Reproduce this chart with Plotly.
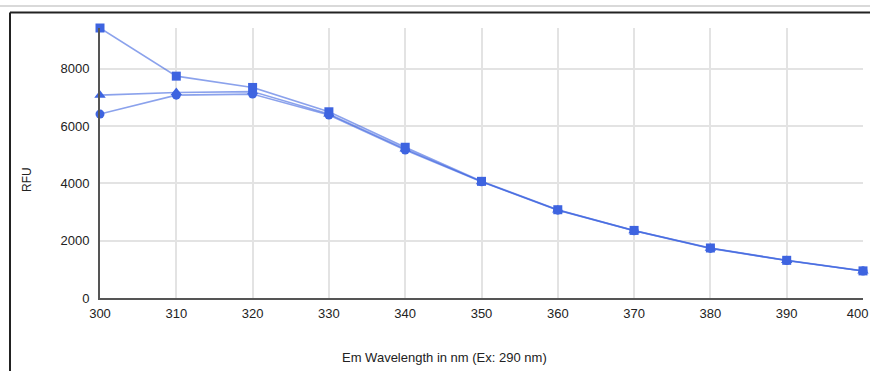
import plotly.graph_objects as go

wavelengths = [300, 310, 320, 330, 340, 350, 360, 370, 380, 390, 400]
series_square = [9420, 7740, 7346, 6497, 5259, 4070, 3080, 2358, 1745, 1315, 946]
series_triangle = [7078, 7172, 7200, 6420, 5200, 4060, 3070, 2350, 1735, 1310, 942]
series_circle = [6417, 7078, 7113, 6383, 5165, 4055, 3065, 2345, 1730, 1308, 940]
x_ticks = [300, 310, 320, 330, 340, 350, 360, 370, 380, 390, 400]
x_tick_labels = ["300", "310", "320", "330", "340", "350", "360", "370", "380", "390", "400"]
y_ticks = [0, 2000, 4000, 6000, 8000]

BLUE = "#3e64e0"
LINE = "rgba(62,100,224,0.6)"
FONT = "Liberation Sans, Arial, sans-serif"

W, H = 870, 371
ML, MR, MT, MB = 100, 7, 28, 73
PW, PH = W - ML - MR, H - MT - MB

def px(x):
    return (x - ML) / PW

def py(y):
    return (H - MB - y) / PH

# last label padded so it sits inside the edge, as in the reference
tick_text = x_tick_labels[:-1] + [x_tick_labels[-1] + "\u00a0\u00a0\u00a0"]

fig = go.Figure()
for vals, sym in [(series_circle, "circle"), (series_triangle, "triangle-up"), (series_square, "square")]:
    fig.add_trace(go.Scatter(
        x=wavelengths, y=vals, mode="lines+markers",
        line=dict(color=LINE, width=1.6),
        marker=dict(symbol=sym, size=9 if sym != "triangle-up" else 10, color=BLUE, line=dict(width=0)),
        cliponaxis=False, showlegend=False,
    ))

fig.update_layout(
    width=W, height=H,
    margin=dict(l=ML, r=MR, t=MT, b=MB, autoexpand=False),
    paper_bgcolor="white", plot_bgcolor="white",
    font=dict(family=FONT, size=13, color="#222"),
    xaxis=dict(range=[300, 400], tickvals=x_ticks, ticktext=tick_text, showgrid=True, gridcolor="#e3e3e3",
               gridwidth=1.5, showline=True, linecolor="#555", linewidth=2, zeroline=False, ticks="",
               ticklabelstandoff=2, ticklabeloverflow="allow", automargin=False, tickfont=dict(size=13)),
    yaxis=dict(range=[0, 9420], tickvals=y_ticks, showgrid=True, gridcolor="#e3e3e3", gridwidth=1.5,
               showline=True, linecolor="#555", linewidth=2, zeroline=False, ticks="", ticklabelstandoff=6,
               ticklabeloverflow="allow", automargin=False, tickfont=dict(size=13)),
    shapes=[
        dict(type="line", xref="paper", yref="paper", x0=px(0), x1=px(870), y0=py(6), y1=py(6),
             line=dict(color="#cccccc", width=1.5)),
        dict(type="line", xref="paper", yref="paper", x0=px(10), x1=px(875), y0=py(12.5), y1=py(12.5),
             line=dict(color="#222", width=2)),
        dict(type="line", xref="paper", yref="paper", x0=px(10), x1=px(10), y0=py(12.5), y1=py(380),
             line=dict(color="#222", width=2)),
    ],
    annotations=[
        dict(text="RFU", xref="paper", yref="paper", x=px(27), y=py(180), textangle=-90,
             showarrow=False, font=dict(size=12, color="#222"), xanchor="center", yanchor="middle"),
        dict(text="Em Wavelength in nm (Ex: 290 nm)", xref="paper", yref="paper", x=px(444), y=py(357),
             showarrow=False, font=dict(size=13, color="#222"), xanchor="center", yanchor="middle"),
    ],
)

fig.write_html("out.html")
